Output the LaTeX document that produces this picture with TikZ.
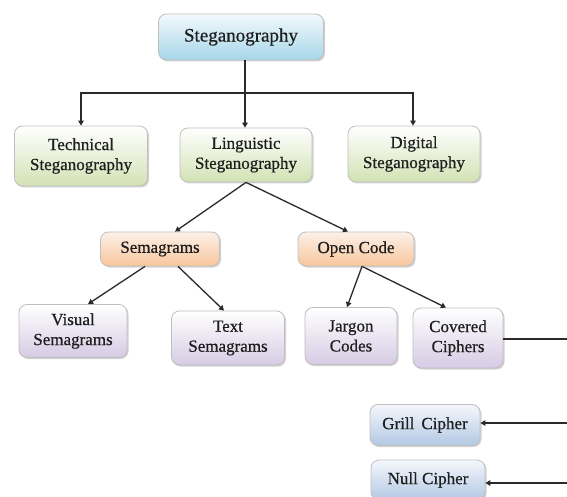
\documentclass[tikz,border=0pt]{standalone}
\usepackage{fontspec}
\setmainfont{Liberation Serif}
\newfontfamily\boxfont{Liberation Serif}[FakeBold=0.6]
\usetikzlibrary{shadows,arrows.meta}
\definecolor{txt}{HTML}{1E1E1E}
\definecolor{ln}{HTML}{2A2A2A}
\definecolor{stegoT}{HTML}{F3F9FC}
\definecolor{stegoB}{HTML}{A6D6E8}
\definecolor{greenB}{HTML}{D2E2B4}
\definecolor{orangeT}{HTML}{FCF0E8}
\definecolor{orangeB}{HTML}{F8C69C}
\definecolor{purpleB}{HTML}{D6CBE4}
\definecolor{paleT}{HTML}{F5F7FB}
\definecolor{paleB}{HTML}{B2C8E4}
\tikzset{
  box/.style={draw=gray!50, line width=0.8pt, rounded corners=8pt, align=center,
    text=txt, font=\boxfont\fontsize{17}{20}\selectfont, inner sep=2pt,
    drop shadow={shadow xshift=1.5pt, shadow yshift=-1.5pt, opacity=0.35, fill=gray}},
  bluebox/.style={box, top color=stegoT, bottom color=stegoB},
  greenbox/.style={box, top color=white, bottom color=greenB},
  orangebox/.style={box, top color=orangeT, bottom color=orangeB},
  purplebox/.style={box, top color=white, bottom color=purpleB},
  paleblue/.style={box, top color=paleT, bottom color=paleB},
  arr/.style={draw=ln, line width=1.3pt, -{Triangle[length=5pt,width=5.5pt]}},
  plain/.style={draw=ln, line width=1.3pt}
}
\begin{document}
\begin{tikzpicture}[x=1pt,y=-1pt]
\useasboundingbox[fill=white] (0,0) rectangle (567,497);
\node[bluebox, minimum width=165pt, minimum height=46pt, font=\boxfont\fontsize{19}{22}\selectfont] (stego) at (241,37) {Steganography};
\node[greenbox, minimum width=133pt, minimum height=60pt] (tech) at (81,156) {Technical\\Steganography};
\node[greenbox, minimum width=132pt, minimum height=54pt] (ling) at (246,155) {Linguistic\\Steganography};
\node[greenbox, minimum width=132pt, minimum height=56pt] (dig) at (414,154) {Digital\\Steganography};
\node[orangebox, minimum width=119pt, minimum height=34pt] (sema) at (160,249) {Semagrams};
\node[orangebox, minimum width=116pt, minimum height=34pt] (open) at (356,249) {Open Code};
\node[purplebox, minimum width=108pt, minimum height=53pt] (vis) at (73,331) {Visual\\Semagrams};
\node[purplebox, minimum width=113pt, minimum height=54pt] (text) at (228,338) {Text\\Semagrams};
\node[purplebox, minimum width=92pt, minimum height=57pt] (jar) at (351,336) {Jargon\\Codes};
\node[purplebox, minimum width=90pt, minimum height=60pt] (cov) at (458,338) {Covered\\Ciphers};
\node[paleblue, minimum width=110pt, minimum height=41pt] (grill) at (425,425) {Grill\, Cipher};
\node[paleblue, minimum width=114pt, minimum height=40pt] (null) at (428,480) {Null Cipher};
\coordinate (j) at (245,93);
\coordinate (e1) at (567,339);
\coordinate (e2) at (567,423);
\coordinate (e3) at (567,483);
% connectors
\draw[arr] (stego.south -| j) -- (j) -- (ling.north -| j);
\draw[arr] (j) -| (tech.north);
\draw[arr] (j) -| ([xshift=-1pt]dig.north);
\draw[arr] (ling.south) -- ([xshift=15pt]sema.north);
\draw[arr] (ling.south) -- ([xshift=-8pt]open.north);
\draw[arr] ([xshift=-15pt]sema.south) -- ([xshift=15pt]vis.north);
\draw[arr] ([xshift=18pt]sema.south) -- ([xshift=-4pt]text.north);
\draw[arr] ([xshift=6pt]open.south) -- ([xshift=-4pt]jar.north);
\draw[arr] ([xshift=6pt]open.south) -- ([xshift=-12pt]cov.north);
\draw[plain] (cov.east |- e1) -- (e1);
\draw[arr] (e2) -- (e2 -| grill.east);
\draw[arr] (e3) -- (e3 -| null.east);
\end{tikzpicture}
\end{document}
